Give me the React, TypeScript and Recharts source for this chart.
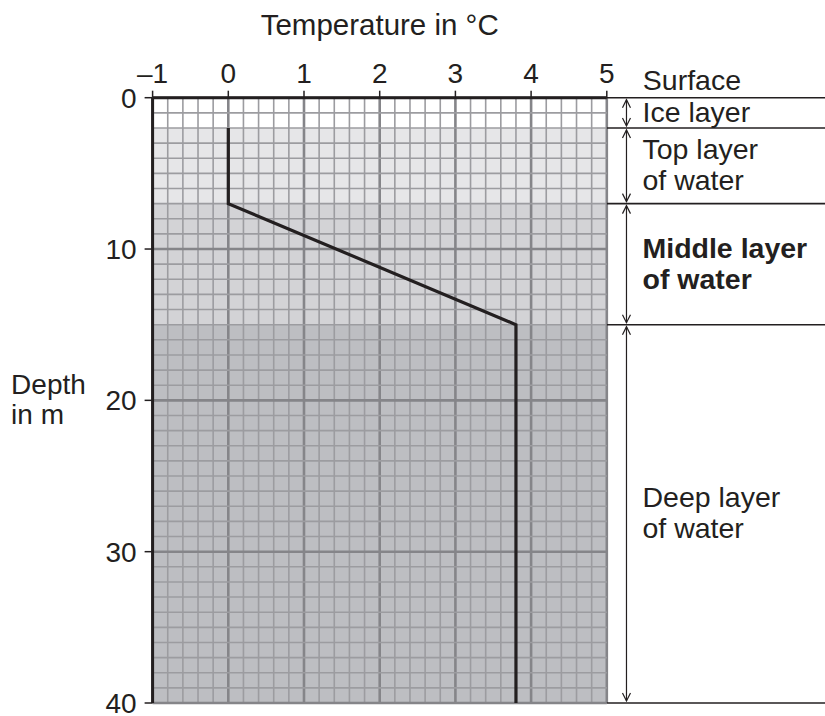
import { ComposedChart, Line, XAxis, YAxis, ReferenceArea, ReferenceLine, Label } from 'recharts';

// temperature / depth profile
const profileTemps = [0, 0, 3.8, 3.8];
const profileDepths = [2, 7, 15, 40];

const tempTicks = [-1, 0, 1, 2, 3, 4, 5];
const depthTicks = [0, 10, 20, 30, 40];

const layerNames = ['Ice layer', 'Top layer\nof water', 'Middle layer\nof water', 'Deep layer\nof water'];
const layerTops = [0, 2, 7, 15];
const layerBottoms = [2, 7, 15, 40];
const layerFills = ['#ffffff', '#e6e6e8', '#d3d3d6', '#bdbec2'];
const boldLayer = 'Middle layer\nof water';
const boundaries = [0, 2, 7, 15, 40];

const profile = profileTemps.map((t, i) => ({ temp: t, depth: profileDepths[i] }));

// grid every 0.2 °C and every 1 m
const xGrid = Array.from({ length: 31 }, (_, i) => Math.round((-1 + i * 0.2) * 10) / 10);
const yGrid = Array.from({ length: 41 }, (_, i) => i);

const INK = '#231f20';
const FONT = '"Liberation Sans", Arial, Helvetica, sans-serif';
const ARROW_X = 5.26;
const EDGE_X = 8;
const MINOR = '#9c9ca0';
const MAJOR = '#858589';

function arrowShape(text: string, bold: boolean) {
  const lines = text.split('\n');
  return (p: any) => {
    const x = p.x1;
    const top = Math.min(p.y1, p.y2) + 2;
    const bot = Math.max(p.y1, p.y2) - 2;
    const mid = (top + bot) / 2;
    const lh = 31;
    const first = mid - ((lines.length - 1) * lh) / 2 + 9;
    return (
      <g>
        <line x1={x} y1={top} x2={x} y2={bot} stroke={INK} strokeWidth={1.2} />
        <polyline points={`${x - 4},${top + 8} ${x},${top} ${x + 4},${top + 8}`} fill="none" stroke={INK} strokeWidth={1.2} />
        <polyline points={`${x - 4},${bot - 8} ${x},${bot} ${x + 4},${bot - 8}`} fill="none" stroke={INK} strokeWidth={1.2} />
        <text fontSize={28.5} fontFamily={FONT} fontWeight={bold ? 700 : 400} fill={INK}>
          {lines.map((l, i) => (
            <tspan key={i} x={x + 16} y={first + i * lh}>
              {l}
            </tspan>
          ))}
        </text>
      </g>
    );
  };
}

function boundaryShape(depth: number) {
  return (p: any) => (
    <g>
      <line x1={p.x1} y1={p.y1} x2={p.x2} y2={p.y2} stroke={INK} strokeWidth={1.6} />
      {depth === 0 && (
        <text x={p.x1 + 36} y={p.y1 - 8} fontSize={28.5} fontFamily={FONT} fill={INK}>
          Surface
        </text>
      )}
    </g>
  );
}

const fmtTemp = (v: number) => (v < 0 ? `–${Math.abs(v)}` : `${v}`);

export default function App() {
  return (
    <div style={{ position: 'absolute', left: 0, top: 0, background: '#fff' }}>
      <ComposedChart
        width={825}
        height={716}
        data={profile}
        margin={{ top: 37.7, right: 218.2, bottom: 13, left: 10.6 }}
      >
        {layerTops.map((t, i) => (
          <ReferenceArea
            key={`band-${i}`}
            x1={-1}
            x2={5}
            y1={t}
            y2={layerBottoms[i]}
            fill={layerFills[i]}
            fillOpacity={1}
            stroke="none"
          />
        ))}
        {xGrid.map((x) => (
          <ReferenceLine
            key={`gx-${x}`}
            x={x}
            stroke={Number.isInteger(x) ? MAJOR : MINOR}
            strokeWidth={Number.isInteger(x) ? 2.6 : 1.6}
          />
        ))}
        {yGrid.map((y) => (
          <ReferenceLine
            key={`gy-${y}`}
            y={y}
            stroke={y % 10 === 0 ? MAJOR : MINOR}
            strokeWidth={y % 10 === 0 ? 2.6 : 1.6}
          />
        ))}
        {boundaries.map((d) => (
          <ReferenceLine
            key={`b-${d}`}
            segment={[{ x: 5, y: d }, { x: EDGE_X, y: d }]}
            ifOverflow="visible"
            shape={boundaryShape(d)}
          />
        ))}
        {layerTops.map((t, i) => (
          <ReferenceLine
            key={`a-${i}`}
            segment={[{ x: ARROW_X, y: t }, { x: ARROW_X, y: layerBottoms[i] }]}
            ifOverflow="visible"
            shape={arrowShape(layerNames[i], layerNames[i] === boldLayer)}
          />
        ))}
        <XAxis
          dataKey="temp"
          type="number"
          orientation="top"
          domain={[-1, 5]}
          ticks={tempTicks}
          tickFormatter={fmtTemp}
          height={60}
          tickSize={7}
          tickMargin={8}
          axisLine={{ stroke: INK, strokeWidth: 3 }}
          tickLine={{ stroke: INK, strokeWidth: 1.5 }}
          tick={{ fontSize: 28, fill: INK, fontFamily: FONT }}
          interval={0}
        >
          <Label
            content={(p: any) => {
              const vb = p.viewBox || { x: 152.6, y: 37.7, width: 454 };
              return (
                <text x={vb.x + vb.width / 2} y={vb.y - 3} textAnchor="middle" fontSize={29.5} fontFamily={FONT} fill={INK}>
                  Temperature in °C
                </text>
              );
            }}
          />
        </XAxis>
        <YAxis
          type="number"
          reversed
          domain={[0, 40]}
          ticks={depthTicks}
          width={142}
          tickSize={8}
          tickMargin={8}
          axisLine={{ stroke: INK, strokeWidth: 3 }}
          tickLine={{ stroke: INK, strokeWidth: 1.5 }}
          tick={{ fontSize: 28, fill: INK, fontFamily: FONT }}
          interval={0}
        >
          <Label
            content={(p: any) => {
              const vb = p.viewBox || { x: 10.6, y: 97.7, height: 605 };
              const cy = vb.y + vb.height / 2;
              return (
                <text fontSize={28} fontFamily={FONT} fill={INK}>
                  <tspan x={vb.x + 0.5} y={cy - 6}>Depth</tspan>
                  <tspan x={vb.x + 0.5} y={cy + 24}>in m</tspan>
                </text>
              );
            }}
          />
        </YAxis>
        <Line
          dataKey="depth"
          type="linear"
          stroke={INK}
          strokeWidth={3.2}
          dot={false}
          activeDot={false}
          isAnimationActive={false}
          zIndex={450}
        />
      </ComposedChart>
    </div>
  );
}
